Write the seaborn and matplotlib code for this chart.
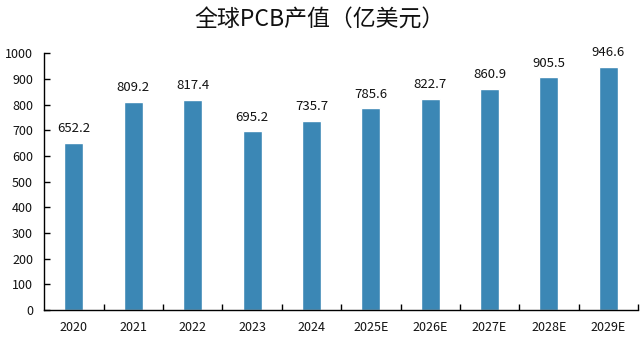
import matplotlib
matplotlib.use("Agg")
import matplotlib.pyplot as plt
import seaborn as sns
import pandas as pd
import numpy as np

years = ["2020", "2021", "2022", "2023", "2024", "2025E", "2026E", "2027E", "2028E", "2029E"]
values = [652.2, 809.2, 817.4, 695.2, 735.7, 785.6, 822.7, 860.9, 905.5, 946.6]
title = "全球PCB产值（亿美元）"

sns.set_theme(style="white")
plt.rcParams['font.family'] = ['Noto Sans CJK SC', 'DejaVu Sans']

df = pd.DataFrame({"year": years, "value": values})

fig = plt.figure(figsize=(6.4, 3.43), dpi=100)
ax = fig.add_axes([0.069, 0.096, 0.928, 0.749])

sns.barplot(data=df, x="year", y="value", color="#3b87b5", saturation=1,
            width=0.32, ax=ax)

for i, v in enumerate(values):
    ax.text(i, v + 30, f"{v:.1f}", ha="center", va="bottom", fontsize=9.5, color="#111111")

ax.set_xlim(-0.5, len(years) - 0.5)
ax.set_ylim(0, 1000)
ax.set_yticks(np.arange(0, 1001, 100))
ax.set_xlabel("")
ax.set_ylabel("")

for s in ["top", "right"]:
    ax.spines[s].set_visible(False)
for s in ["left", "bottom"]:
    ax.spines[s].set_color("black")
    ax.spines[s].set_linewidth(1.0)

ax.tick_params(axis="y", direction="in", length=4, width=1, color="black",
               labelsize=9, left=True, pad=8)
ax.tick_params(axis="x", which="major", length=0, labelsize=9, pad=8)
ax.set_xticks(np.arange(0.5, len(years), 1), minor=True)
ax.tick_params(axis="x", which="minor", direction="in", length=4, width=1,
               color="black", bottom=True)
for lbl in ax.get_xticklabels() + ax.get_yticklabels():
    lbl.set_color("#111111")

fig.text(0.5, 0.94, title, ha="center", va="center", fontsize=16.5,
         fontweight="medium", color="#111111")

fig.savefig("out.png", dpi=100)
